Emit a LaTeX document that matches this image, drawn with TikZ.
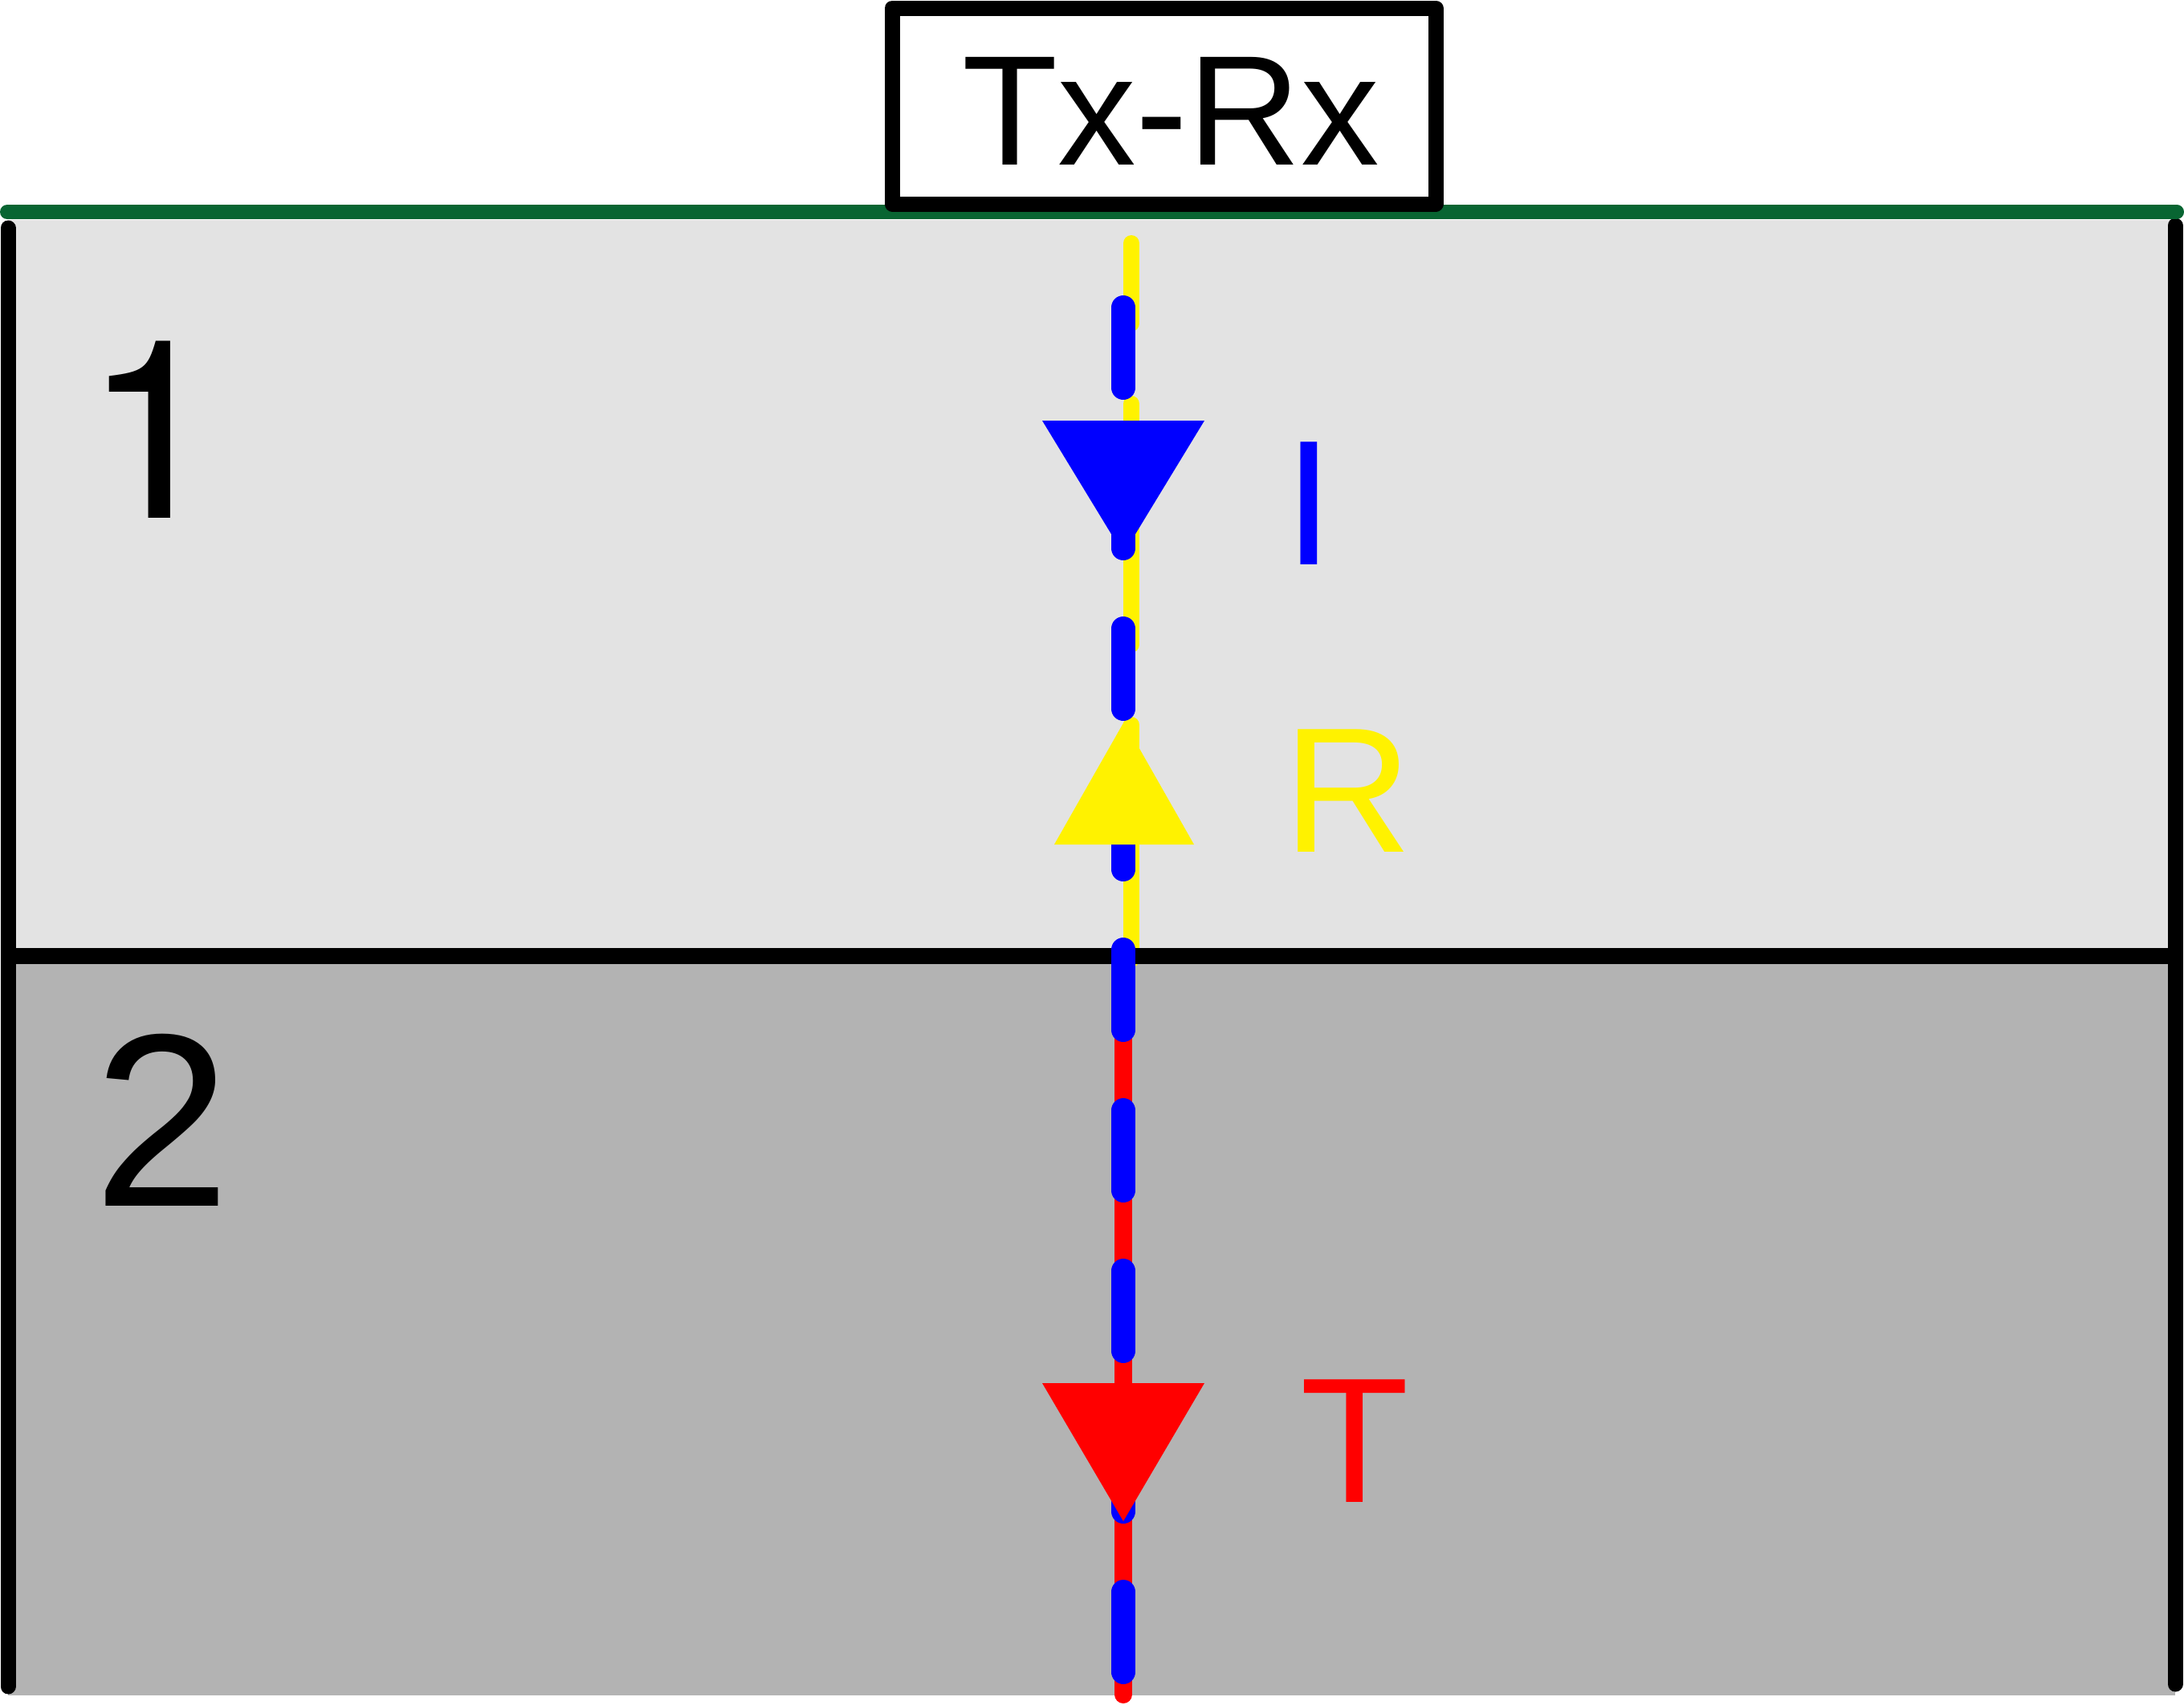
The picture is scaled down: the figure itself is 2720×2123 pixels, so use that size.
\documentclass[tikz,border=0pt]{standalone}
\usepackage{fontspec}
\setmainfont{Liberation Sans}
\newfontfamily\digitfont{TeX Gyre Heros}
\definecolor{grn}{RGB}{8,101,50}
\definecolor{layerA}{RGB}{227,227,227}
\definecolor{layerB}{RGB}{179,179,179}
\begin{document}
\begin{tikzpicture}[x=1pt,y=-1pt,
  wall/.style={line width=19pt,line cap=round,draw=black},
  ray/.style={line cap=round},
  bigdigit/.style={anchor=base west,inner sep=0pt,font=\fontsize{307}{307}\selectfont},
  raylabel/.style={anchor=base west,inner sep=0pt,font=\fontsize{222}{222}\selectfont}]
\fill[white] (0,0) rectangle (2720,2123);
\useasboundingbox (0,0) rectangle (2720,2123);
% layers
\fill[layerA] (10,274) rectangle (2709,1191);
\fill[layerB] (10,1191) rectangle (2709,2112);
% coordinates
\coordinate (ifL) at (10,1191);
\coordinate (ifR) at (2709,1191);
\coordinate (lt) at (10,284);
\coordinate (lb) at (10,2101);
\coordinate (rt) at (2709,281);
\coordinate (rb) at (2709,2098);
\coordinate (gL) at (9,264);
\coordinate (gR) at (2711,264);
\coordinate (yT) at (1409,303);
\coordinate (yB) at (1409,1195);
\coordinate (rT) at (1399,1191);
\coordinate (rB) at (1399,2111);
\coordinate (bT) at (1399,383);
\coordinate (bB) at (1399,2083);
% rays under the interface
\draw[ray,yellow,line width=20pt,dash pattern=on 300pt off 100pt,dash phase=200pt] (yT) -- (yB);
\draw[ray,red,line width=22pt] (rT) -- (rB);
% interface and walls
\draw[line width=20pt] (ifL) -- (ifR);
\draw[wall] (lt) -- (lb);
\draw[wall] (rt) -- (rb);
\draw[line width=18pt,line cap=round,grn] (gL) -- (gR);
% incident ray
\draw[ray,blue,line width=30pt,dash pattern=on 100pt off 100pt] (bT) -- (bB);
% arrowheads
\fill[blue] (1298,524) -- (1500,524) -- (1399,690) -- cycle;
\fill[yellow] (1313,1052) -- (1487,1052) -- (1400,899) -- cycle;
\fill[red] (1298,1723) -- (1500,1723) -- (1399,1895) -- cycle;
% labels
\node[bigdigit,font=\digitfont\fontsize{311}{311}\selectfont] (n1) at (104,645) {1};
\node[bigdigit] (n2) at (116,1502) {2};
\node[raylabel,text=blue] (lI) at (1599,703) {I};
\node[raylabel,text=yellow] (lR) at (1598,1061) {R};
\node[raylabel,text=red] (lT) at (1619,1871) {T};
% Tx-Rx box
\node[draw=black,line width=19pt,line join=round,fill=white,minimum width=677pt,minimum height=244pt,inner sep=0pt] (box) at (1449.5,132) {};
\node[anchor=base,inner sep=0pt,font=\fontsize{195}{195}\selectfont] (boxlabel) at (1458,205) {Tx-Rx};
\end{tikzpicture}
\end{document}
